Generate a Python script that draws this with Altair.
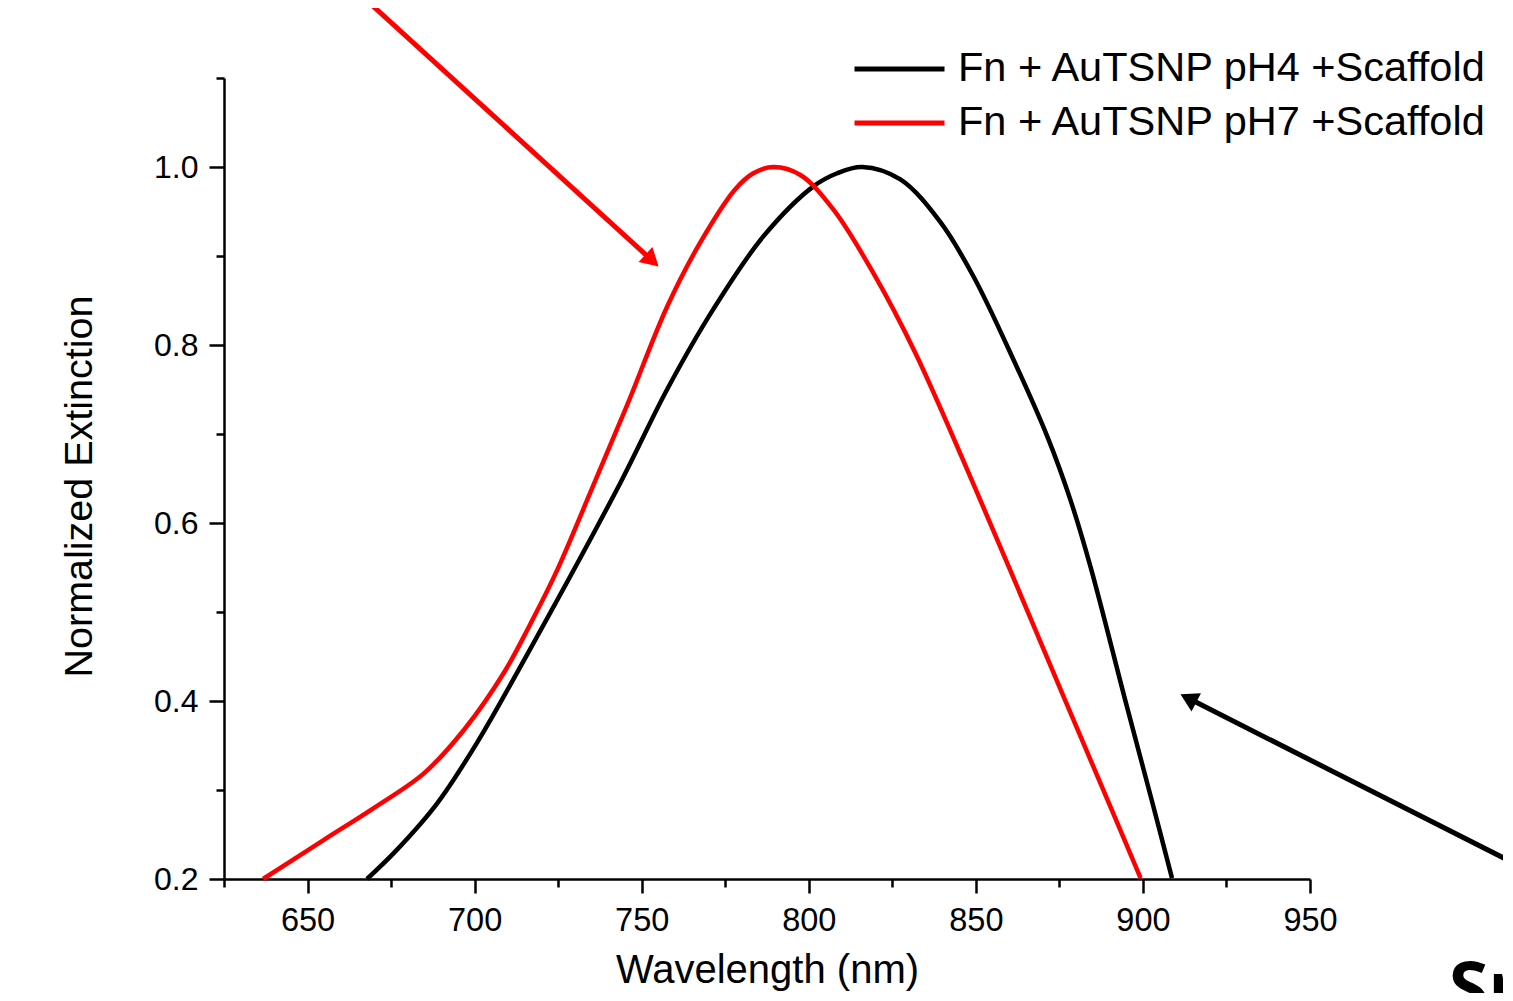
import altair as alt
import pandas as pd

series_names = ["Fn + AuTSNP pH4 +Scaffold", "Fn + AuTSNP pH7 +Scaffold"]
series_colors = ["#000000", "#ff0000"]

ph4_wl = [667.8, 676.8, 688.8, 700.7, 714.8, 743.6, 757.6, 771.4, 786.4,
          801.3, 808.5, 816.0, 827.4, 839.4, 849.3, 861.2, 871.4, 878.3, 884.3,
          894.7, 902.6, 908.7]
ph4_val = [0.200, 0.233, 0.285, 0.353, 0.446, 0.645, 0.750, 0.840, 0.922,
           0.978, 0.993, 1.000, 0.986, 0.938, 0.877, 0.784, 0.697, 0.626, 0.551,
           0.401, 0.289, 0.201]

ph7_wl = [636.7, 654.9, 669.9, 684.9, 696.9, 708.8, 716.6, 724.7, 734.6, 745.7, 757.6, 767.5,
          778.0, 783.4, 789.5, 797.5, 807.4, 819.3, 831.9, 851.3, 864.0, 876.7, 889.4,
          899.3]
ph7_val = [0.200, 0.244, 0.280, 0.319, 0.368, 0.432, 0.486, 0.547, 0.634, 0.733, 0.843, 0.915,
           0.975, 0.993, 1.000, 0.991, 0.952, 0.881, 0.791, 0.626, 0.514, 0.401, 0.289,
           0.201]

x_ticks = [625, 650, 675, 700, 725, 750, 775, 800, 825, 850, 875, 900, 925, 950]
y_ticks = [0.2, 0.3, 0.4, 0.5, 0.6, 0.7, 0.8, 0.9, 1.0, 1.1]

# annotation arrows (data units)
arrow_x = [667.5, 1010.9]
arrow_y = [1.188, 0.218]
arrow_x2 = [753.1, 913.6]
arrow_y2 = [0.895, 0.403]
arrow_head_x = [753.1, 913.6]
arrow_head_y = [0.895, 0.403]
arrow_angle = [132.4, 297.5]
arrow_color = ["#ff0000", "#000000"]

side_text = ["Sr"]
side_text_x = [991.5]
side_text_y = [0.05]

FONT = "Liberation Sans"

df = pd.concat([
    pd.DataFrame({"wl": ph4_wl, "val": ph4_val, "series": series_names[0]}),
    pd.DataFrame({"wl": ph7_wl, "val": ph7_val, "series": series_names[1]}),
])

arrows = pd.DataFrame({"x": arrow_x, "y": arrow_y, "x2": arrow_x2, "y2": arrow_y2,
                       "hx": arrow_head_x, "hy": arrow_head_y, "ang": arrow_angle,
                       "c": arrow_color})
texts = pd.DataFrame({"t": side_text, "x": side_text_x, "y": side_text_y})

x_scale = alt.Scale(domain=[625, 950], nice=False, zero=False)
y_scale = alt.Scale(domain=[0.2, 1.1], nice=False, zero=False)

x_axis = alt.Axis(
    values=x_ticks,
    labelExpr="datum.value % 50 === 0 ? datum.label : ''",
    format="d",
    tickSize={"condition": {"test": "datum.value % 50 === 0", "value": 14}, "value": 8},
    tickWidth=2.5, tickColor="black",
    domainColor="black", domainWidth=2.5,
    labelFont=FONT, labelFontSize=32.5, labelColor="black", labelPadding=11,
    titleFont=FONT, titleFontSize=40, titleFontWeight="normal", titleColor="black",
    titlePadding=14, grid=False, labelFlush=False, labelOverlap=False,
)
y_axis = alt.Axis(
    values=y_ticks,
    labelExpr="abs(datum.value*10 - 2*round(datum.value*5)) < 0.01 ? format(datum.value, '.1f') : ''",
    tickSize={"condition": {"test": "abs(datum.value*10 - 2*round(datum.value*5)) < 0.01",
                            "value": 15}, "value": 8},
    tickWidth=2.5, tickColor="black",
    domainColor="black", domainWidth=2.5,
    labelFont=FONT, labelFontSize=32, labelColor="black", labelPadding=11,
    titleFont=FONT, titleFontSize=39.5, titleFontWeight="normal", titleColor="black",
    titlePadding=54, titleY=408, grid=False, labelFlush=False, labelOverlap=False,
)

lines = alt.Chart(df).mark_line(strokeWidth=4.5, interpolate="catmull-rom").encode(
    x=alt.X("wl:Q", scale=x_scale, axis=x_axis, title="Wavelength (nm)"),
    y=alt.Y("val:Q", scale=y_scale, axis=y_axis, title="Normalized Extinction"),
    color=alt.Color(
        "series:N",
        scale=alt.Scale(domain=series_names, range=series_colors),
        legend=alt.Legend(
            title=None, orient="none", legendX=628, legendY=-29,
            symbolType="stroke", symbolSize=8100, symbolStrokeWidth=5,
            labelFont=FONT, labelFontSize=41.5, labelColor="black",
            labelOffset=11, rowPadding=12, clipHeight=40, labelLimit=800,
        ),
    ),
)

rules = alt.Chart(arrows).mark_rule(strokeWidth=5).encode(
    x=alt.X("x:Q", scale=x_scale), y=alt.Y("y:Q", scale=y_scale),
    x2="x2:Q", y2="y2:Q",
    color=alt.Color("c:N", scale=None),
)
heads = alt.Chart(arrows).mark_point(shape="triangle-up", filled=True, size=420, opacity=1).encode(
    x=alt.X("hx:Q", scale=x_scale), y=alt.Y("hy:Q", scale=y_scale),
    angle=alt.Angle("ang:Q", scale=None),
    color=alt.Color("c:N", scale=None),
)
side = alt.Chart(texts).mark_text(
    font="Open Sans", fontSize=72, fontWeight="bold", align="left", baseline="alphabetic",
    color="black",
).encode(
    x=alt.X("x:Q", scale=x_scale), y=alt.Y("y:Q", scale=y_scale), text="t:N",
)

chart = alt.layer(lines, rules, heads, side).properties(
    width=1086, height=801,
    autosize=alt.AutoSizeParams(type="none"),
    padding={"left": 216, "top": 70, "right": 193, "bottom": 114},
).configure_view(stroke=None)

chart.save("out.html", embed_options={"renderer": "svg", "actions": False})
